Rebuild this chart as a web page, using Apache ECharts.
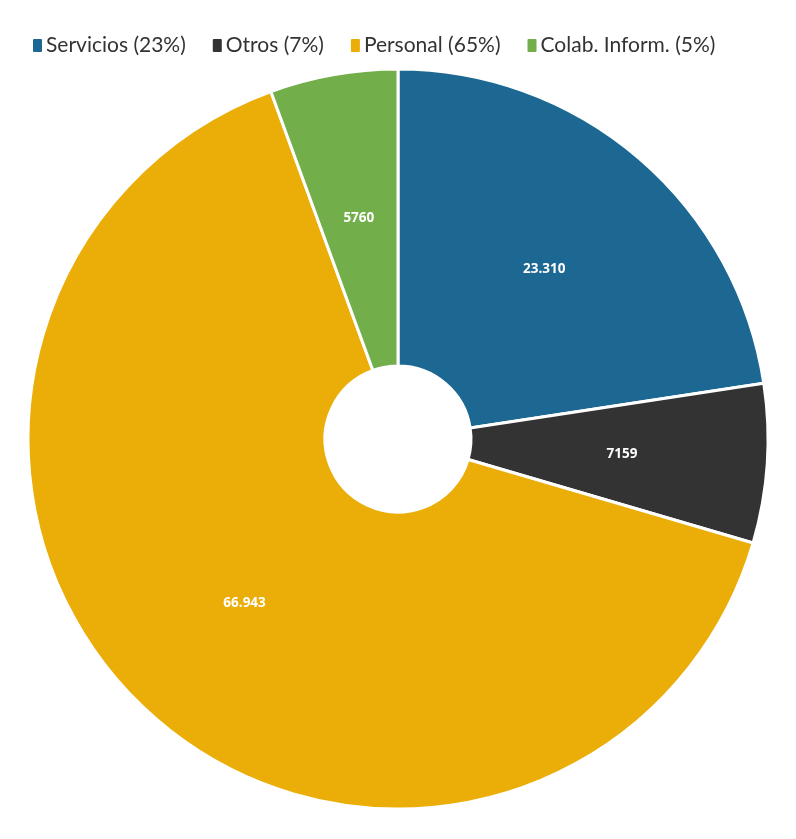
<!DOCTYPE html>
<html>
<head>
<meta charset="utf-8">
<script src="https://cdn.jsdelivr.net/npm/echarts@6/dist/echarts.min.js"></script>
<style>
  html, body { margin: 0; padding: 0; background: #fff; }
  #chart { width: 796px; height: 839px; }
</style>
</head>
<body>
<div id="chart"></div>
<script>
// datos del gráfico
const categories = ['Servicios', 'Otros', 'Personal', 'Colab. Inform.'];
const values = [23310, 7159, 66943, 5760];
const legendPercents = [23, 7, 65, 5];
const colors = ['#1d6893', '#333333', '#ebad07', '#72ae4a'];

// formato es-ES: separador de miles solo a partir de 5 cifras
function fmt(v) {
  const s = String(v);
  if (v < 10000) return s;
  return s.replace(/\B(?=(\d{3})+(?!\d))/g, '.');
}

const chart = echarts.init(document.getElementById('chart'));
const option = {
  animation: false,
  color: colors,
  legend: {
    top: 30,
    left: 26,
    itemWidth: 11,
    itemHeight: 15,
    itemGap: 25,
    icon: 'path://M2,0 L9,0 Q11,0 11,2 L11,13 Q11,15 9,15 L2,15 Q0,15 0,13 L0,2 Q0,0 2,0 Z',
    textStyle: {
      fontFamily: 'Lato',
      fontSize: 21,
      color: '#333333',
      padding: [0, 0, 0, -2]
    },
    formatter: name => {
      const i = categories.indexOf(name);
      return name + ' (' + legendPercents[i] + '%)';
    },
    data: categories
  },
  series: [
    {
      type: 'pie',
      center: [398, 439],
      radius: [73, 370],
      startAngle: 90,
      clockwise: true,
      itemStyle: {
        borderColor: '#ffffff',
        borderWidth: 3
      },
      label: {
        show: true,
        position: 'inside',
        color: '#ffffff',
        fontFamily: 'Open Sans',
        fontWeight: 'bold',
        fontSize: 13.5,
        formatter: p => fmt(p.value)
      },
      labelLine: { show: false },
      emphasis: { disabled: true },
      data: categories.map((c, i) => ({ name: c, value: values[i] }))
    }
  ]
};
chart.setOption(option);
</script>
</body>
</html>
